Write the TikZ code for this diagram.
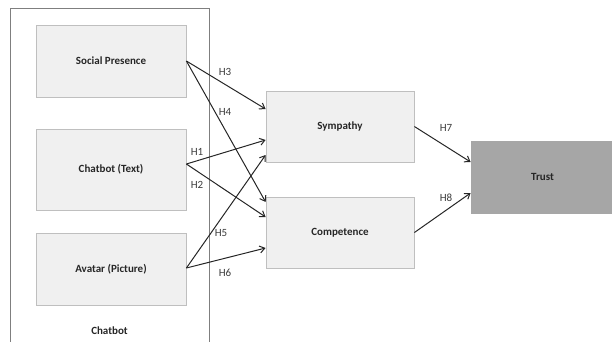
\documentclass[tikz,border=0pt]{standalone}
\usepackage{fontspec}
\setmainfont{Carlito}
\usetikzlibrary{arrows.meta}
\definecolor{boxfill}{HTML}{F0F0F0}
\definecolor{boxline}{HTML}{BFBFBF}
\definecolor{trustfill}{HTML}{A6A6A6}
\definecolor{frameline}{HTML}{7F7F7F}
\definecolor{txt}{HTML}{262626}
\begin{document}
\begin{tikzpicture}[x=1pt,y=-1pt,
  construct/.style={draw=boxline,fill=boxfill,line width=0.8pt,rectangle,
    inner sep=0pt,font=\bfseries\fontsize{11}{13}\selectfont,text=txt},
  hyp/.style={font=\fontsize{11}{13}\selectfont,text=txt!90,inner sep=0pt},
  link/.style={draw=black!85,line width=1pt,-{Straight Barb[length=5pt,width=7pt,line width=1pt]}}]
\useasboundingbox (0,0) rectangle (612,341);
% outer frame grouping the chatbot features
\draw[frameline,line width=0.9pt] (10,345) -- (10,8) -- (209,8) -- (209,345);
\node[font=\bfseries\fontsize{11}{13}\selectfont,text=txt] (chatbot) at (109.5,331) {Chatbot};
% construct boxes
\node[construct,minimum width=150pt,minimum height=72pt] (sp) at (111,61) {Social Presence};
\node[construct,minimum width=150pt,minimum height=81pt] (ct) at (111,169.5) {Chatbot (Text)};
\node[construct,minimum width=150pt,minimum height=72pt] (av) at (111,269) {Avatar (Picture)};
\node[construct,minimum width=148pt,minimum height=71pt] (sy) at (340,126.5) {Sympathy};
\node[construct,minimum width=148pt,minimum height=71pt] (co) at (340,232.5) {Competence};
\node[construct,draw=trustfill,fill=trustfill,minimum width=143pt,minimum height=72pt] (tr) at (542.5,177) {Trust};
% hypothesised paths
\draw[link] (sp.east) -- ([yshift=17.5pt]sy.west);
\draw[link] (sp.east) -- ([yshift=30.5pt]co.west);
\draw[link] ([yshift=5.5pt]ct.east) -- ([yshift=-13.5pt]sy.west);
\draw[link] ([yshift=5.5pt]ct.east) -- ([yshift=15.5pt]co.west);
\draw[link] ([yshift=1pt]av.east) -- ([yshift=-28.5pt]sy.west);
\draw[link] ([yshift=1pt]av.east) -- ([yshift=-15.5pt]co.west);
\draw[link] (sy.east) -- ([yshift=15pt]tr.west);
\draw[link] (co.east) -- ([yshift=-16pt]tr.west);
% path labels
\node[hyp] (h3) at (225,72) {H3};
\node[hyp] (h4) at (225,112) {H4};
\node[hyp] (h1) at (197,152) {H1};
\node[hyp] (h2) at (197,185) {H2};
\node[hyp] (h5) at (221,233) {H5};
\node[hyp] (h6) at (225,273) {H6};
\node[hyp] (h7) at (446,128) {H7};
\node[hyp] (h8) at (446,198) {H8};
\end{tikzpicture}
\end{document}
